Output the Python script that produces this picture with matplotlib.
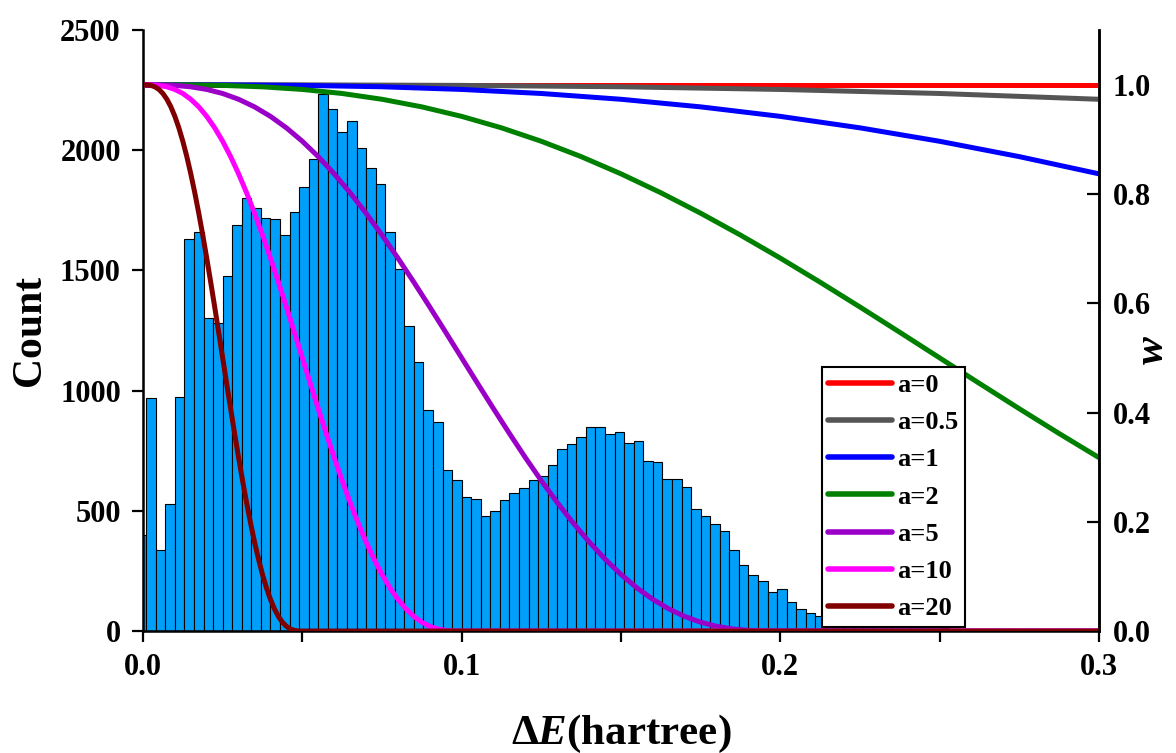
import numpy as np
import matplotlib
matplotlib.use('Agg')
import matplotlib.pyplot as plt
from matplotlib.ticker import MultipleLocator

plt.rcParams['font.family'] = 'Liberation Serif'
plt.rcParams['font.weight'] = 'bold'
plt.rcParams['axes.labelweight'] = 'bold'
plt.rcParams['mathtext.fontset'] = 'custom'
plt.rcParams['mathtext.rm'] = 'Liberation Serif:bold'
plt.rcParams['mathtext.it'] = 'Liberation Serif:italic:bold'
plt.rcParams['mathtext.bf'] = 'Liberation Serif:bold'

# histogram of energy gaps (bins 0.003 wide, first bin starts at -0.002)
bin_start = -0.002
bin_width = 0.003
counts = [400, 970, 336, 530, 974, 1629, 1662, 1303, 1280, 1477,
          1689, 1803, 1760, 1720, 1715, 1647, 1744, 1848, 1962, 2235,
          2170, 2076, 2121, 2010, 1927, 1859, 1660, 1507, 1268, 1118,
          921, 871, 670, 628, 557, 550, 480, 501, 546, 574,
          593, 630, 646, 692, 758, 779, 806, 847, 847, 821,
          829, 781, 789, 709, 702, 631, 631, 599, 506, 480,
          444, 417, 336, 273, 232, 207, 161, 173, 122, 90,
          73, 64, 55, 48, 42, 40, 35, 30, 28, 25,
          22, 20, 18, 15, 12, 10, 6, 4, 8, 3,
          2, 7, 2, 1, 2, 7, 1, 0, 2, 0]

# weight curves w(dE)
a_labels = ['a=0', 'a=0.5', 'a=1', 'a=2', 'a=5', 'a=10', 'a=20']
a_colors = ['#FF0000', '#555555', '#0000FF', '#008000', '#9B00C8', '#FF00FF', '#800000']

de_a0 = [0.0, 0.3]
w_a0 = [1.0, 1.0]

de_a05 = [0.0, 0.05, 0.1, 0.15, 0.2, 0.25, 0.3]
w_a05 = [1.0, 0.9998, 0.9988, 0.9963, 0.9914, 0.984, 0.9734]

de_a1 = [0.0, 0.025, 0.05, 0.075, 0.1, 0.125, 0.15, 0.175, 0.2, 0.225, 0.25, 0.275, 0.3]
w_a1 = [1.0, 0.9998, 0.9988, 0.9963, 0.9914, 0.984, 0.9734, 0.9595, 0.9421, 0.9211, 0.8965, 0.8684, 0.8369]

de_a2 = [0.0, 0.0125, 0.025, 0.0375, 0.05, 0.0625, 0.075, 0.0875, 0.1, 0.1125, 0.125, 0.1375,
         0.15, 0.1625, 0.175, 0.1875, 0.2, 0.2125, 0.225, 0.2375, 0.25, 0.2625, 0.275, 0.2875, 0.3]
w_a2 = [1.0, 0.9998, 0.9988, 0.9962, 0.9914, 0.984, 0.9734, 0.9595, 0.9421, 0.9211, 0.8965, 0.8684,
        0.8369, 0.8023, 0.7648, 0.7248, 0.6826, 0.6385, 0.5931, 0.5468, 0.5, 0.4532, 0.4069, 0.3615, 0.3174]

# shared shape of the steep curves (a=5, 10, 20), last point is the flat tail at dE=0.3
w_steep = [1.0, 0.9998, 0.9988, 0.9962, 0.9914, 0.984, 0.9734, 0.9595, 0.9421, 0.9211,
           0.8965, 0.8684, 0.8369, 0.8023, 0.7648, 0.7248, 0.6826, 0.6385, 0.5931, 0.5468,
           0.5, 0.4532, 0.4069, 0.3615, 0.3174, 0.2752, 0.2352, 0.1977, 0.1631, 0.1316,
           0.1035, 0.0789, 0.0579, 0.0405, 0.0266, 0.0161, 0.0086, 0.0038, 0.0012, 0.0002,
           0.0, 0.0]

de_a5 = [0.0, 0.005, 0.01, 0.015, 0.02, 0.025, 0.03, 0.035, 0.04, 0.045,
         0.05, 0.055, 0.06, 0.065, 0.07, 0.075, 0.08, 0.085, 0.09, 0.095,
         0.1, 0.105, 0.11, 0.115, 0.12, 0.125, 0.13, 0.135, 0.14, 0.145,
         0.15, 0.155, 0.16, 0.165, 0.17, 0.175, 0.18, 0.185, 0.19, 0.195,
         0.2, 0.3]
w_a5 = w_steep

de_a10 = [0.0, 0.0025, 0.005, 0.0075, 0.01, 0.0125, 0.015, 0.0175, 0.02, 0.0225,
          0.025, 0.0275, 0.03, 0.0325, 0.035, 0.0375, 0.04, 0.0425, 0.045, 0.0475,
          0.05, 0.0525, 0.055, 0.0575, 0.06, 0.0625, 0.065, 0.0675, 0.07, 0.0725,
          0.075, 0.0775, 0.08, 0.0825, 0.085, 0.0875, 0.09, 0.0925, 0.095, 0.0975,
          0.1, 0.3]
w_a10 = w_steep

de_a20 = [0.0, 0.00125, 0.0025, 0.00375, 0.005, 0.00625, 0.0075, 0.00875, 0.01, 0.01125,
          0.0125, 0.01375, 0.015, 0.01625, 0.0175, 0.01875, 0.02, 0.02125, 0.0225, 0.02375,
          0.025, 0.02625, 0.0275, 0.02875, 0.03, 0.03125, 0.0325, 0.03375, 0.035, 0.03625,
          0.0375, 0.03875, 0.04, 0.04125, 0.0425, 0.04375, 0.045, 0.04625, 0.0475, 0.04875,
          0.05, 0.3]
w_a20 = w_steep

curves = [(de_a0, w_a0), (de_a05, w_a05), (de_a1, w_a1), (de_a2, w_a2),
          (de_a5, w_a5), (de_a10, w_a10), (de_a20, w_a20)]

fig = plt.figure(figsize=(11.76, 7.53), dpi=100)
ax = fig.add_axes([0.1216, 0.162, 0.8129, 0.798])

edges = bin_start + bin_width * np.arange(len(counts))
ax.bar(edges, counts, width=bin_width, align='edge', color='#00A0FA',
       edgecolor='black', linewidth=0.8)
ax.set_xlim(0, 0.3)
ax.set_ylim(0, 2500)
ax.set_xticks([0.0, 0.1, 0.2, 0.3])
ax.set_xticklabels(['0.0', '0.1', '0.2', '0.3'])
ax.xaxis.set_minor_locator(MultipleLocator(0.05))
ax.set_yticks([0, 500, 1000, 1500, 2000, 2500])
ax.tick_params(axis='both', which='both', direction='out', length=8, width=1.6,
               labelsize=22, pad=8)
ax.tick_params(axis='y', right=False)
ax.set_xlabel(r'$\Delta E$(hartree)', fontsize=31, labelpad=22)
ax.set_ylabel('Count', fontsize=30, labelpad=8)
for s in ['left', 'bottom', 'right']:
    ax.spines[s].set_linewidth(1.8)
ax.spines['top'].set_visible(False)

ax2 = ax.twinx()
for (de, w), lab, col in zip(curves, a_labels, a_colors):
    ax2.plot(de, w, color=col, lw=3.6, label=lab, solid_capstyle='round')
ax2.set_ylim(0, 1.1)
ax2.set_yticks([0.0, 0.2, 0.4, 0.6, 0.8, 1.0])
ax2.set_yticklabels(['0.0', '0.2', '0.4', '0.6', '0.8', '1.0'])
ax2.tick_params(axis='y', direction='in', length=9, width=1.6, labelsize=22, pad=10)
ax2.set_ylabel('w', fontsize=30, style='italic')
ax2.yaxis.set_label_coords(1.037, 0.467)
ax2.spines['top'].set_visible(False)
ax2.spines['right'].set_linewidth(1.8)

leg = ax2.legend(loc='lower left', bbox_to_anchor=(0.710, 0.007), fontsize=19,
                 frameon=True, fancybox=False, edgecolor='black', framealpha=1,
                 handlelength=2.4, handletextpad=0.2, borderpad=0.25,
                 labelspacing=0.52, borderaxespad=0)
leg.get_frame().set_linewidth(1.5)
for line in leg.get_lines():
    line.set_linewidth(4)

fig.savefig('out.png', dpi=100)
